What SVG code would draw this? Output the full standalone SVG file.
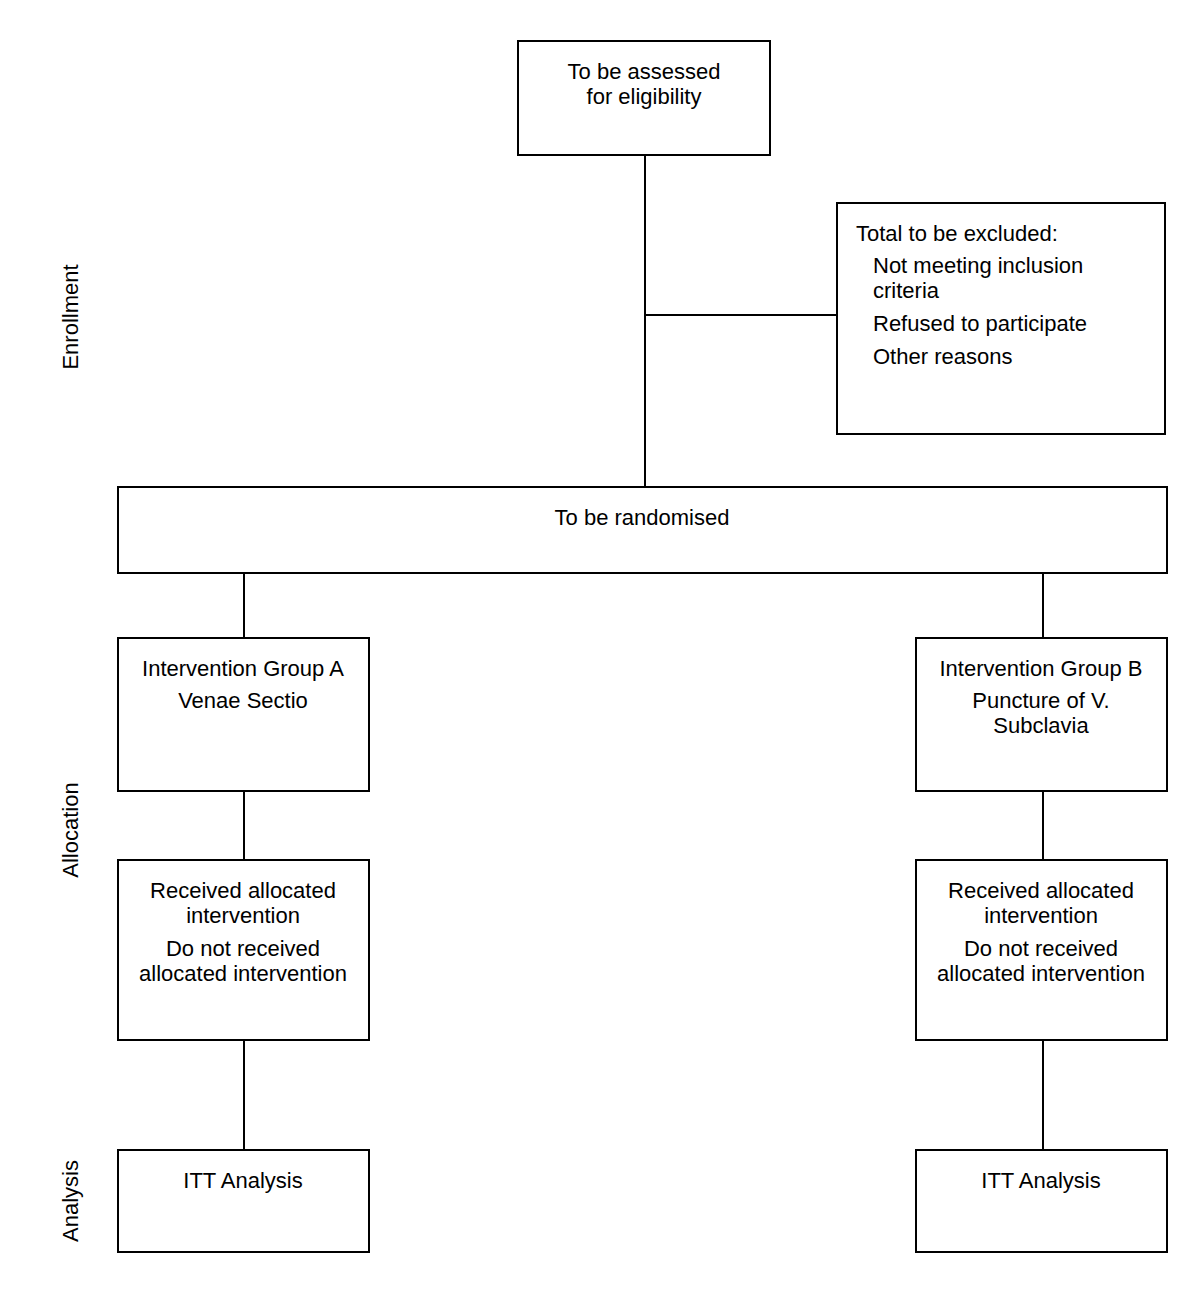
<svg xmlns="http://www.w3.org/2000/svg" width="1200" height="1309" viewBox="0 0 1200 1309">
<style>
rect{fill:#fff;stroke:#000;stroke-width:2}
line{stroke:#000;stroke-width:2}
text{font-family:"Liberation Sans",Arial,sans-serif;font-size:22px;fill:#000}
.c{text-anchor:middle}
</style>
<rect x="0" y="0" width="1200" height="1309" style="stroke:none"/>
<g id="connectors">
<line x1="645" y1="155" x2="645" y2="487"/>
<line x1="645" y1="315" x2="837" y2="315"/>
<line x1="244" y1="573" x2="244" y2="638"/>
<line x1="244" y1="791" x2="244" y2="860"/>
<line x1="244" y1="1040" x2="244" y2="1150"/>
<line x1="1043" y1="573" x2="1043" y2="638"/>
<line x1="1043" y1="791" x2="1043" y2="860"/>
<line x1="1043" y1="1040" x2="1043" y2="1150"/>
</g>
<g id="labels">
<text class="c" transform="translate(78,317) rotate(-90)">Enrollment</text>
<text class="c" transform="translate(78,830) rotate(-90)">Allocation</text>
<text class="c" transform="translate(78,1201) rotate(-90)">Analysis</text>
</g>
<g id="assess">
<rect x="518" y="41" width="252" height="114"/>
<text class="c" x="644" y="79">To be assessed</text>
<text class="c" x="644" y="104">for eligibility</text>
</g>
<g id="excluded">
<rect x="837" y="203" width="328" height="231"/>
<text x="856" y="241">Total to be excluded:</text>
<text x="873" y="273">Not meeting inclusion</text>
<text x="873" y="298">criteria</text>
<text x="873" y="331">Refused to participate</text>
<text x="873" y="364">Other reasons</text>
</g>
<g id="randomised">
<rect x="118" y="487" width="1049" height="86"/>
<text class="c" x="642" y="525">To be randomised</text>
</g>
<g id="groupA">
<rect x="118" y="638" width="251" height="153"/>
<text class="c" x="243" y="676">Intervention Group A</text>
<text class="c" x="243" y="708">Venae Sectio</text>
</g>
<g id="groupB">
<rect x="916" y="638" width="251" height="153"/>
<text class="c" x="1041" y="676">Intervention Group B</text>
<text class="c" x="1041" y="708">Puncture of V.</text>
<text class="c" x="1041" y="733">Subclavia</text>
</g>
<g id="receivedA">
<rect x="118" y="860" width="251" height="180"/>
<text class="c" x="243" y="898">Received allocated</text>
<text class="c" x="243" y="923">intervention</text>
<text class="c" x="243" y="956">Do not received</text>
<text class="c" x="243" y="981">allocated intervention</text>
</g>
<g id="receivedB">
<rect x="916" y="860" width="251" height="180"/>
<text class="c" x="1041" y="898">Received allocated</text>
<text class="c" x="1041" y="923">intervention</text>
<text class="c" x="1041" y="956">Do not received</text>
<text class="c" x="1041" y="981">allocated intervention</text>
</g>
<g id="ittA">
<rect x="118" y="1150" width="251" height="102"/>
<text class="c" x="243" y="1188">ITT Analysis</text>
</g>
<g id="ittB">
<rect x="916" y="1150" width="251" height="102"/>
<text class="c" x="1041" y="1188">ITT Analysis</text>
</g>
</svg>
